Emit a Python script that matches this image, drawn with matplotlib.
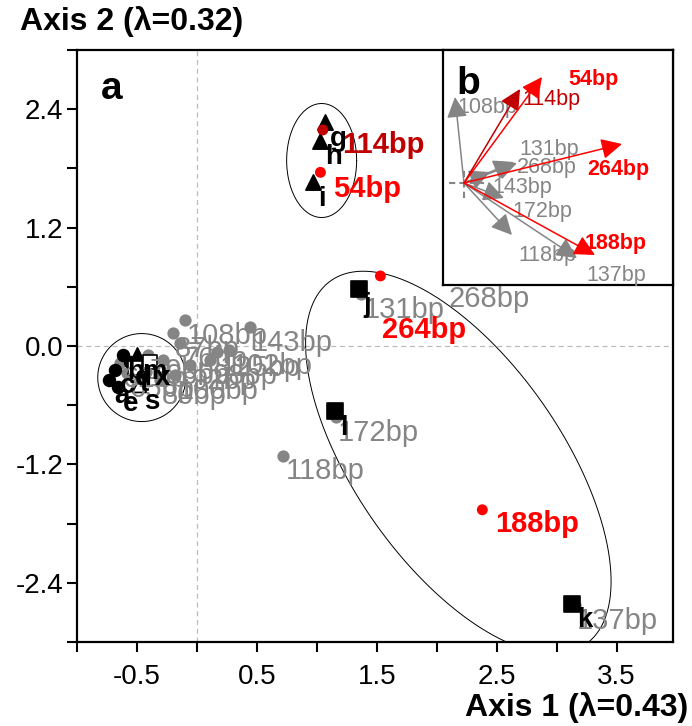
import numpy as np
import matplotlib.pyplot as plt

plt.rcParams['font.family'] = ['Liberation Sans', 'DejaVu Sans']

# ---- data -------------------------------------------------------------
# fragment scores (grey = not significant)
gray_names = ['108bp', '87bp', '143bp', '76bp', '125bp', '85bp', '70bp', '65bp',
              '62bp', '100bp', '92bp', '80bp', '98bp', '102bp',
              '131bp', '268bp', '172bp', '118bp', '137bp']
gray_x = [-0.10, -0.20, 0.44, -0.14, 0.17, -0.28, -0.41, -0.58,
          -0.64, -0.18, -0.06, -0.31, 0.11, 0.27,
          1.37, 2.13, 1.16, 0.72, 3.15]
gray_y = [0.26, 0.13, 0.19, 0.03, -0.06, -0.14, -0.09, -0.27,
          -0.17, -0.29, -0.19, -0.34, -0.14, -0.04,
          0.53, 0.77, -0.72, -1.11, -2.63]

# significant fragments
red_names = ['114bp', '54bp', '264bp', '188bp']
red_x = [1.05, 1.03, 1.53, 2.38]
red_y = [2.19, 1.76, 0.71, -1.66]

# samples (letters) and their group symbol
obs_names = ['a', 'c', 'b', 'd', 'e', 'm', 't', 'x', 's',
             'g', 'h', 'i', 'j', 'l', 'k']
obs_x = [-0.73, -0.68, -0.62, -0.56, -0.66, -0.50, -0.52, -0.39, -0.48,
         1.07, 1.03, 0.97, 1.35, 1.15, 3.13]
obs_y = [-0.34, -0.24, -0.09, -0.16, -0.42, -0.09, -0.22, -0.16, -0.40,
         2.27, 2.08, 1.66, 0.58, -0.66, -2.61]
obs_group = ['circle', 'circle', 'circle', 'circle', 'circle', 'tri', 'wsq', 'wsq', 'wtri',
             'tri', 'tri', 'tri', 'sq', 'sq', 'sq']

# inset b: biplot arrows
arr_names = ['108bp', '131bp', '268bp', '143bp', '172bp', '118bp', '137bp',
             '114bp', '54bp', '264bp', '188bp']
arr_x = [-0.09, 0.50, 0.53, 0.26, 0.40, 0.48, 1.13, 0.56, 0.78, 1.58, 1.31]
arr_y = [0.86, 0.21, 0.20, 0.11, -0.15, -0.52, -0.75, 0.94, 1.06, 0.39, -0.72]
arr_lab_x = [-0.07, 0.55, 0.53, 0.28, 0.48, 0.54, 1.22, 0.58, 1.04, 1.23, 1.21]
arr_lab_y = [0.75, 0.34, 0.15, -0.04, -0.29, -0.72, -0.92, 0.83, 1.04, 0.13, -0.60]

# ---- layout -----------------------------------------------------------
GRAY = '#858585'
RED = '#ff0000'
DRED = '#c00000'
red_cols = [DRED, RED, RED, RED]
red_off = {'114bp': (14, -11), '54bp': (9, -12), '264bp': (1, -39), '188bp': (9, -10)}
gray_off = {'268bp': (-3, -21)}

fig = plt.figure(figsize=(6.92, 7.26), dpi=100)
L, R, B, T = 77 / 692, 673 / 692, 1 - 642 / 726, 1 - 50 / 726
ax = fig.add_axes([L, B, R - L, T - B])
xmin, xmax, ymin, ymax = -1.0, 3.97, -3.0, 3.0
ax.set_xlim(xmin, xmax)
ax.set_ylim(ymin, ymax)
xs = (R - L) * 692 / (xmax - xmin)
ys = (T - B) * 726 / (ymax - ymin)

ax.axhline(0, color='#bbbbbb', lw=0.9, ls=(0, (4, 3)), zorder=0)
ax.axvline(0, color='#bbbbbb', lw=0.9, ls=(0, (4, 3)), zorder=0)

# ellipses around groups
t = np.linspace(0, 2 * np.pi, 300)
ell = [(-0.46, -0.32, 44, 44, 0), (1.04, 1.88, 35, 57, 0), (2.18, -1.18, 222, 103, 55)]
for cx, cy, a, b, ang in ell:
    th = np.radians(ang)
    px = a * np.cos(t) * np.cos(th) - b * np.sin(t) * np.sin(th)
    py = a * np.cos(t) * np.sin(th) + b * np.sin(t) * np.cos(th)
    ax.plot(cx + px / xs, cy - py / ys, color='black', lw=0.7, zorder=2)

ax.scatter(gray_x, gray_y, s=78, color=GRAY, lw=0, zorder=3)

styles = {'circle': dict(marker='o', s=72, facecolor='black', edgecolor='black'),
          'tri': dict(marker='^', s=120, facecolor='black', edgecolor='black'),
          'sq': dict(marker='s', s=120, facecolor='black', edgecolor='black'),
          'wsq': dict(marker='s', s=100, facecolor='white', edgecolor='black'),
          'wtri': dict(marker='^', s=100, facecolor='white', edgecolor='black')}
for g, st in styles.items():
    xx = [x for x, gg in zip(obs_x, obs_group) if gg == g]
    yy = [y for y, gg in zip(obs_y, obs_group) if gg == g]
    ax.scatter(xx, yy, lw=1.2, zorder=4, **st)

for n, x, y in zip(gray_names, gray_x, gray_y):
    ax.annotate(n, (x, y), xytext=gray_off.get(n, (1.5, -11.5)), textcoords='offset points',
                ha='left', va='center', fontsize=21, color=GRAY, zorder=5)

ax.scatter(red_x, red_y, s=62, color=red_cols, lw=0, zorder=6)
for n, x, y, c in zip(red_names, red_x, red_y, red_cols):
    ax.annotate(n, (x, y), xytext=red_off[n], textcoords='offset points',
                ha='left', va='center', fontsize=21, color=c, fontweight='bold', zorder=7)

for n, x, y in zip(obs_names, obs_x, obs_y):
    ax.annotate(n, (x, y), xytext=(3.6, -12), textcoords='offset points',
                ha='left', va='center', fontsize=20, color='black', fontweight='bold', zorder=8)

xt = np.arange(-1.0, 3.6, 0.5)
ax.set_xticks(xt)
ax.set_xticklabels(['%.1f' % v if round(v * 2) % 2 else '' for v in xt])
yt = np.arange(-3.0, 3.01, 0.6)
ax.set_yticks(yt)
ax.set_yticklabels(['%.1f' % v if round(v / 0.6) % 2 == 0 and abs(v) < 2.9 else '' for v in yt])
ax.tick_params(direction='out', length=7, width=1.5, labelsize=20, pad=9)
ax.tick_params(axis='y', pad=3)
for s in ax.spines.values():
    s.set_linewidth(1.6)
ax.text(0.04, 0.965, 'a', transform=ax.transAxes, fontsize=28, fontweight='bold', va='top')

fig.text(20 / 692, 1 - 22 / 726, 'Axis 2 (\u03bb=0.32)', fontsize=23, fontweight='bold', va='center')
fig.text(688 / 692, 1 - 708 / 726, 'Axis 1 (\u03bb=0.43)', fontsize=23, fontweight='bold',
         va='center', ha='right')

# ---- inset b ---------------------------------------------------------
bl, bb = 443 / 692, 1 - 285 / 726
axb = fig.add_axes([bl, bb, R - bl, T - bb])
axb.set_xlim(-0.21, 2.09)
axb.set_ylim(-1.02, 1.33)
axb.set_xticks([])
axb.set_yticks([])
for s in axb.spines.values():
    s.set_linewidth(1.6)
axb.plot([-0.15, 0.2], [0, 0], color=GRAY, lw=1.5, ls=(0, (3, 2)))
axb.plot([0, 0], [-0.15, 0.16], color=GRAY, lw=1.5, ls=(0, (3, 2)))
axb.text(0.06, 0.93, 'b', transform=axb.transAxes, fontsize=28, fontweight='bold', va='top')

for n, x, y, lx, ly in zip(arr_names, arr_x, arr_y, arr_lab_x, arr_lab_y):
    if n in red_names:
        c = red_cols[red_names.index(n)]
        w = 'normal' if c == DRED else 'bold'
    else:
        c, w = GRAY, 'normal'
    axb.annotate('', xy=(x, y), xytext=(0, 0),
                 arrowprops=dict(arrowstyle='-|>,head_length=0.6,head_width=0.3',
                                 color=c, lw=1.1, mutation_scale=21, shrinkA=0, shrinkB=0))
    axb.text(lx, ly, n, color=c, fontsize=15.5, fontweight=w, ha='left', va='center')

fig.savefig('out.png', dpi=100)
